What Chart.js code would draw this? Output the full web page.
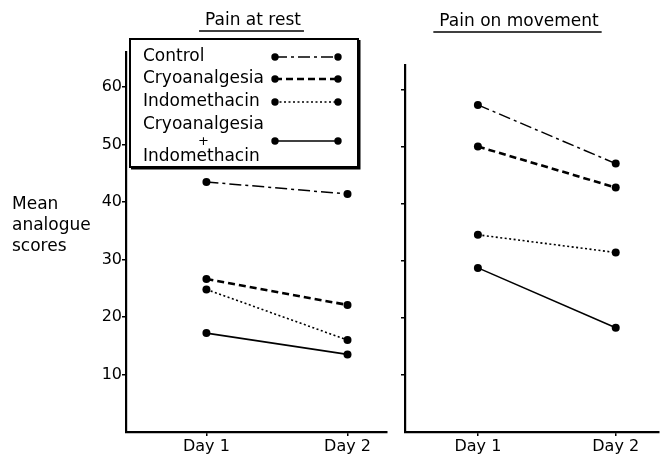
<!DOCTYPE html>
<html>
<head>
<meta charset="utf-8">
<script src="https://cdn.jsdelivr.net/npm/chart.js@4/dist/chart.umd.min.js"></script>
<style>
  html, body { margin: 0; padding: 0; background: #fff; }
  #wrap { position: relative; width: 663px; height: 455px; overflow: hidden; }
  #restChart { position: absolute; left: 0; top: 0; }
  #moveChart { position: absolute; left: 395px; top: 0; }
</style>
</head>
<body>
<div id="wrap">
  <canvas id="restChart" width="395" height="455"></canvas>
  <canvas id="moveChart" width="268" height="455"></canvas>
</div>
<script>
// --- data ---
const days = ['Day 1', 'Day 2'];
const groups = ['Control', 'Cryoanalgesia', 'Indomethacin', 'Cryoanalgesia + Indomethacin'];
const restControl = [43.5, 41.4];
const restCryo = [26.6, 22.1];
const restIndo = [24.8, 16.0];
const restBoth = [17.2, 13.5];
const moveControl = [57.4, 47.1];
const moveCryo = [50.1, 42.9];
const moveIndo = [34.6, 31.5];
const moveBoth = [28.8, 18.3];
const yTicks = [10, 20, 30, 40, 50, 60];

// line styles per group (control, cryo, indo, both)
const styles = [
  { dash: [12, 4, 3, 4], width: 1.5 },
  { dash: [7, 4], width: 2.6 },
  { dash: [2, 2.5], width: 1.6 },
  { dash: [], width: 1.6 }
];

const TEXT_FONT = '17px "DejaVu Sans"';

Chart.defaults.font.family = '"DejaVu Sans", sans-serif';
Chart.defaults.font.size = 16;
Chart.defaults.color = '#000';

function makeSets(series) {
  return series.map((vals, i) => ({
    label: groups[i],
    data: vals.map((v, j) => ({ x: j + 1, y: v })),
    borderColor: '#000',
    borderWidth: styles[i].width,
    borderDash: styles[i].dash,
    pointRadius: 4,
    pointBackgroundColor: '#000',
    pointBorderWidth: 0,
    fill: false
  }));
}

function axes(xMin, xMax, yMax, yWidth, showYLabels) {
  return {
    x: {
      type: 'linear',
      min: xMin,
      max: xMax,
      afterBuildTicks: (s) => { s.ticks = days.map((d, i) => ({ value: i + 1 })); },
      afterFit: (s) => { s.height = 23; },
      ticks: { padding: 1, callback: (v) => days[v - 1] || '' },
      grid: { drawOnChartArea: false, drawTicks: true, tickLength: 4, color: '#000', lineWidth: 1.5 },
      border: { display: true, color: '#000', width: 2.2 }
    },
    y: {
      min: 0,
      max: yMax,
      afterBuildTicks: (s) => { s.ticks = yTicks.map(v => ({ value: v })); },
      afterFit: (s) => { s.width = yWidth; },
      ticks: { display: showYLabels, padding: 0 },
      grid: { drawOnChartArea: false, drawTicks: true, tickLength: 4, color: '#000', lineWidth: 1.5 },
      border: { display: true, color: '#000', width: 2.2 }
    }
  };
}

function underlinedTitle(ctx, text, cx, cy) {
  ctx.save();
  ctx.font = TEXT_FONT;
  ctx.fillStyle = '#000';
  ctx.textAlign = 'center';
  ctx.textBaseline = 'middle';
  ctx.fillText(text, cx, cy);
  const w = ctx.measureText(text).width;
  ctx.strokeStyle = '#000';
  ctx.lineWidth = 1.3;
  ctx.beginPath();
  ctx.moveTo(cx - w / 2 - 6, cy + 10);
  ctx.lineTo(cx + w / 2 + 3, cy + 10);
  ctx.stroke();
  ctx.restore();
}

// titles, y-label and the boxed key
const restDecor = {
  id: 'restDecor',
  afterDraw(chart) {
    const ctx = chart.ctx;
    underlinedTitle(ctx, 'Pain at rest', 253, 21);

    ctx.save();
    ctx.fillStyle = '#000';
    ctx.font = TEXT_FONT;
    ctx.textBaseline = 'middle';
    ctx.textAlign = 'left';
    ['Mean', 'analogue', 'scores'].forEach((t, i) => ctx.fillText(t, 12, 205 + i * 21));

    // key box
    ctx.fillStyle = '#fff';
    ctx.fillRect(130, 39, 228, 128);
    ctx.strokeStyle = '#000';
    ctx.lineWidth = 2;
    ctx.strokeRect(130, 39, 228, 128);
    ctx.lineWidth = 3;
    ctx.beginPath();
    ctx.moveTo(359, 40); ctx.lineTo(359, 168); ctx.lineTo(131, 168);
    ctx.stroke();

    ctx.fillStyle = '#000';
    ctx.fillText('Control', 143, 57);
    ctx.fillText('Cryoanalgesia', 143, 79);
    ctx.fillText('Indomethacin', 143, 102);
    ctx.fillText('Cryoanalgesia', 143, 125);
    ctx.font = '13px "DejaVu Sans"';
    ctx.fillText('+', 198, 142);
    ctx.font = TEXT_FONT;
    ctx.fillText('Indomethacin', 143, 157);

    const rowsY = [57, 79, 102, 141];
    rowsY.forEach((y, i) => {
      ctx.beginPath();
      ctx.setLineDash(styles[i].dash);
      ctx.lineWidth = styles[i].width;
      ctx.moveTo(275, y);
      ctx.lineTo(338, y);
      ctx.stroke();
      ctx.setLineDash([]);
      [275, 338].forEach(x => {
        ctx.beginPath();
        ctx.arc(x, y, 3.7, 0, Math.PI * 2);
        ctx.fill();
      });
    });
    ctx.restore();
  }
};

const moveDecor = {
  id: 'moveDecor',
  afterDraw(chart) {
    underlinedTitle(chart.ctx, 'Pain on movement', 124, 22);
  }
};

const common = {
  responsive: false,
  animation: false,
  plugins: { legend: { display: false }, tooltip: { enabled: false } }
};

new Chart(document.getElementById('restChart'), {
  type: 'line',
  data: { datasets: makeSets([restControl, restCryo, restIndo, restBoth]) },
  options: Object.assign({}, common, {
    layout: { padding: { left: 0, right: 8, top: 52, bottom: 0 } },
    scales: axes(0.43, 2.28, 66.1, 126, true)
  }),
  plugins: [restDecor]
});

new Chart(document.getElementById('moveChart'), {
  type: 'line',
  data: { datasets: makeSets([moveControl, moveCryo, moveIndo, moveBoth]) },
  options: Object.assign({}, common, {
    layout: { padding: { left: 0, right: 0, top: 65, bottom: 0 } },
    scales: axes(0.471, 2.314, 64.4, 10, false)
  }),
  plugins: [moveDecor]
});
</script>
</body>
</html>
